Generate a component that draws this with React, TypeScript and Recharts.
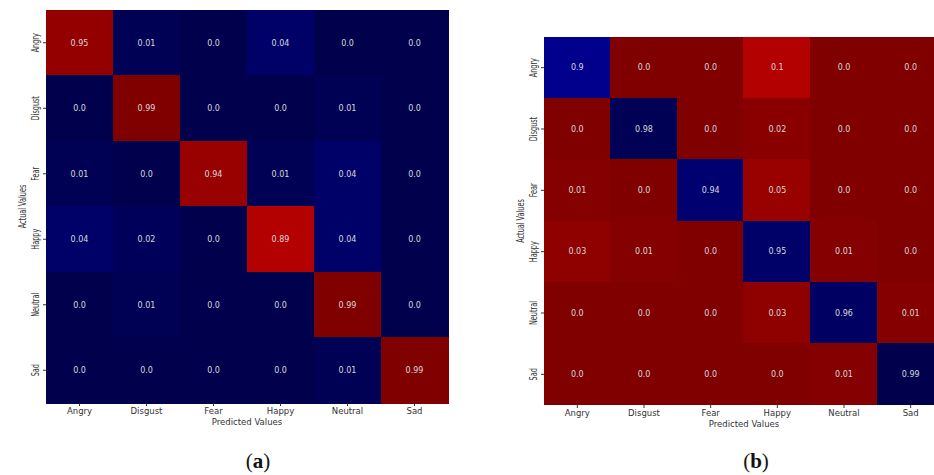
import React from 'react';
import { Bar, BarChart, XAxis, YAxis, Cell, LabelList, Label } from 'recharts';

// class names, same order on both axes
const EMOTIONS = ['Angry', 'Disgust', 'Fear', 'Happy', 'Neutral', 'Sad'];
const COL_TICKS = [0.5, 1.5, 2.5, 3.5, 4.5, 5.5];

// rows = actual, cols = predicted
const MATRIX_A = [
  [0.95, 0.01, 0.0, 0.04, 0.0, 0.0],
  [0.0, 0.99, 0.0, 0.0, 0.01, 0.0],
  [0.01, 0.0, 0.94, 0.01, 0.04, 0.0],
  [0.04, 0.02, 0.0, 0.89, 0.04, 0.0],
  [0.0, 0.01, 0.0, 0.0, 0.99, 0.0],
  [0.0, 0.0, 0.0, 0.0, 0.01, 0.99],
];

const MATRIX_B = [
  [0.9, 0.0, 0.0, 0.1, 0.0, 0.0],
  [0.0, 0.98, 0.0, 0.02, 0.0, 0.0],
  [0.01, 0.0, 0.94, 0.05, 0.0, 0.0],
  [0.03, 0.01, 0.0, 0.95, 0.01, 0.0],
  [0.0, 0.0, 0.0, 0.03, 0.96, 0.01],
  [0.0, 0.0, 0.0, 0.0, 0.01, 0.99],
];

const FONT = '"DejaVu Sans", sans-serif';

// matplotlib "seismic" colormap
const seismic = (t: number) => {
  const stops = [
    [0, 0, 0.3],
    [0, 0, 1],
    [1, 1, 1],
    [1, 0, 0],
    [0.5, 0, 0],
  ];
  const c = Math.max(0, Math.min(1, t)) * 4;
  const i = Math.min(Math.floor(c), 3);
  const f = c - i;
  const rgb = stops[i].map((v, k) => Math.round((v + (stops[i + 1][k] - v) * f) * 255));
  return `rgb(${rgb[0]},${rgb[1]},${rgb[2]})`;
};

const fmt = (v: number) => (Number.isInteger(v) ? v.toFixed(1) : String(v));

const buildRows = (m: number[][]) =>
  EMOTIONS.map((name, r) => {
    const row: any = { actual: name };
    m[r].forEach((v, c) => {
      row[`u${c}`] = 1;
      row[`v${c}`] = fmt(v);
    });
    return row;
  });

// rotated, squeezed labels like the scanned figure
const VText = ({ x, y, children }: any) => (
  <g transform={`translate(${x},${y})`}>
    <text
      transform="rotate(-90) scale(0.65,1)"
      textAnchor="middle"
      dominantBaseline="central"
      fontSize={10}
      fontFamily={FONT}
      fill="#333"
    >
      {children}
    </text>
  </g>
);

const YTick = ({ x, y, payload }: any) => (
  <VText x={x - 6} y={y}>
    {payload.value}
  </VText>
);

interface HeatProps {
  matrix: number[][];
  reversed: boolean;
  width: number;
  top: number;
  plotBottom: number;
  right: number;
}

const Heatmap = ({ matrix, reversed, width, top, plotBottom, right }: HeatProps) => {
  const data = buildRows(matrix);
  const vmax = Math.max(...matrix.flat());
  const vmin = Math.min(...matrix.flat());
  const color = (v: number) => {
    const t = (v - vmin) / (vmax - vmin);
    return seismic(reversed ? 1 - t : t);
  };

  return (
    <BarChart
      width={width}
      height={475}
      data={data}
      layout="vertical"
      barCategoryGap={0}
      barGap={0}
      margin={{ top, right, left: 0, bottom: 475 - plotBottom - 30 }}
    >
      <XAxis
        type="number"
        domain={[0, 6]}
        ticks={COL_TICKS}
        interval={0}
        height={30}
        axisLine={false}
        tickSize={3}
        tickLine={{ stroke: '#333' }}
        tick={{ fontSize: 8.5, fontFamily: FONT, fill: '#333' }}
        tickFormatter={(v: number) => EMOTIONS[Math.floor(v)]}
      >
        <Label
          content={({ viewBox }: any) => (
            <text
              x={viewBox.x + viewBox.width / 2}
              y={viewBox.y + 22}
              textAnchor="middle"
              fontSize={8.5}
              fontFamily={FONT}
              fill="#333"
            >
              Predicted Values
            </text>
          )}
        />
      </XAxis>
      <YAxis
        type="category"
        dataKey="actual"
        width={46}
        axisLine={false}
        tickSize={3}
        tickLine={{ stroke: '#333' }}
        tick={<YTick />}
      >
        <Label
          content={({ viewBox }: any) => (
            <VText x={viewBox.x + viewBox.width - 24} y={viewBox.y + viewBox.height / 2}>
              Actual Values
            </VText>
          )}
        />
      </YAxis>
      {EMOTIONS.map((_, c) => (
        <Bar key={c} dataKey={`u${c}`} stackId="m" isAnimationActive={false}>
          {matrix.map((row, r) => (
            <Cell
              key={r}
              fill={color(row[c])}
              stroke={color(row[c])}
              strokeWidth={1}
              shapeRendering="crispEdges"
            />
          ))}
          <LabelList
            dataKey={`v${c}`}
            position="center"
            fill="#d8d8dc"
            fontSize={8}
            fontFamily={FONT}
          />
        </Bar>
      ))}
    </BarChart>
  );
};

const captionStyle = (left: number): React.CSSProperties => ({
  position: 'absolute',
  left,
  top: 449,
  width: 40,
  textAlign: 'center',
  fontFamily: '"Liberation Serif", serif',
  fontSize: 21,
  color: '#111',
});

export default function App() {
  return (
    <div
      style={{
        position: 'absolute',
        left: 0,
        top: 0,
        width: 934,
        height: 475,
        overflow: 'hidden',
        background: '#fff',
      }}
    >
      <div style={{ position: 'absolute', left: 0, top: 0 }}>
        <Heatmap matrix={MATRIX_A} reversed={false} width={470} top={10} plotBottom={403} right={22} />
      </div>
      <div style={{ position: 'absolute', left: 498, top: 0 }}>
        <Heatmap matrix={MATRIX_B} reversed={true} width={456} top={37} plotBottom={405} right={10} />
      </div>
      <div style={captionStyle(238)}>
        (<b>a</b>)
      </div>
      <div style={captionStyle(736)}>
        (<b>b</b>)
      </div>
    </div>
  );
}
